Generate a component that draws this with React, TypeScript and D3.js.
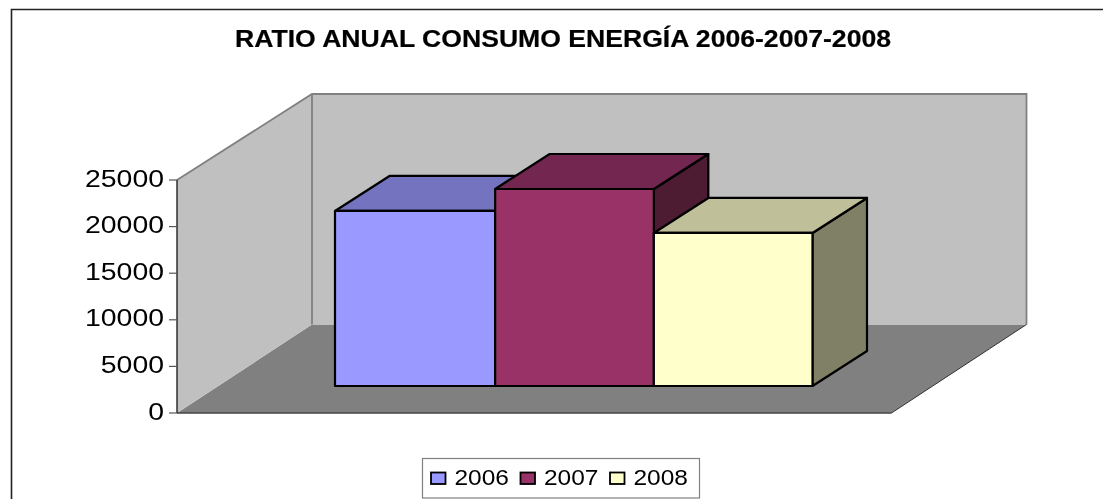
import React from "react";
import * as d3 from "d3";

const title = "RATIO ANUAL CONSUMO ENERGÍA 2006-2007-2008";
const years = ["2006", "2007", "2008"];
const ratios = [18780, 21140, 16420];
const fronts = ["#9999FF", "#993366", "#FFFFCC"];
const tops = ["#7373BF", "#732650", "#BFBF99"];
const sides = ["#4D4D80", "#4D1A33", "#808066"];
const tickValues = [0, 5000, 10000, 15000, 20000, 25000];

const y = d3.scaleLinear().domain([0, 25000]).range([413, 180]);
const x = d3.scaleBand<string>().domain(years).range([336.5, 812.5]);

const wallDx = 135, floorDy = -88.5, wallTopDy = -86;
const floorW = 714.5;
const barDx = 54.5, barDy = -35, barLift = 27;
const line = d3.line();
const poly = (p: [number, number][]) => line(p)! + "Z";

const legendX = d3.scalePoint<string>().domain(years).range([431, 610]);

export default function App() {
  const y0 = y(0), yT = y(25000);
  const xL = 177, xR = xL + floorW;
  const backTop = yT + wallTopDy, backBottom = y0 + floorDy;
  return (
    <svg width={1103} height={499} style={{ position: "absolute", left: 0, top: 0, background: "#fff" }}
      fontFamily="'Liberation Sans', Arial, sans-serif">
      <defs>
        <filter id="soft" x="0" y="0" width="1103" height="499" filterUnits="userSpaceOnUse">
          <feGaussianBlur stdDeviation={0.4} />
        </filter>
      </defs>
      <g filter="url(#soft)">
        <path d="M11.5,499V9.5H1103" fill="none" stroke="#222" strokeWidth={1.6} />
        <text x={235} y={46.5} fontSize={23} fontWeight="bold" stroke="#000" strokeWidth={0.2} textLength={656} lengthAdjust="spacingAndGlyphs" fill="#000">{title}</text>

        <path d={poly([[xL, y0], [xL + wallDx, backBottom], [xR + wallDx, backBottom], [xR, y0]])} fill="#808080" />
        <path d={poly([[xL, y0], [xL, yT], [xL + wallDx, backTop], [xL + wallDx, backBottom]])} fill="#C0C0C0" />
        <path d={poly([[xL + wallDx, backTop], [xR + wallDx, backTop], [xR + wallDx, backBottom], [xL + wallDx, backBottom]])} fill="#C0C0C0" />
        <path d={line([[xL, yT], [xL + wallDx, backTop], [xR + wallDx, backTop], [xR + wallDx, backBottom]])!} fill="none" stroke="#808080" strokeWidth={1.8} />
        <path d={line([[xL + wallDx, backTop], [xL + wallDx, backBottom]])!} fill="none" stroke="#808080" strokeWidth={1.8} />
        <path d={line([[xR, y0], [xR + wallDx, backBottom]])!} fill="none" stroke="#333" strokeWidth={1} />
        <path d={line([[xL, y0], [xR, y0]])!} fill="none" stroke="#444" strokeWidth={1.4} />
        <path d={line([[xL, yT], [xL, y0]])!} fill="none" stroke="#222" strokeWidth={1.4} />

        {tickValues.map(t => (
          <g key={t}>
            <line x1={169} x2={xL} y1={y(t)} y2={y(t)} stroke="#555" strokeWidth={1.2} />
            <text x={164} y={y(t) + 6.5} textAnchor="end" fontSize={24} fill="#000"
              textLength={String(t).length * 15.8} lengthAdjust="spacingAndGlyphs">{t}</text>
          </g>
        ))}

        {years.map((yr, i) => {
          const bw = x.bandwidth();
          const x0 = x(yr)! - (i === 0 ? 1.5 : 0);
          const x1 = x(yr)! + bw;
          const yb = y(0) - barLift;
          const yt = y(ratios[i]) - barLift;
          return (
            <g key={yr} stroke="#000" strokeWidth={2.2} strokeLinejoin="round">
              <path d={poly([[x1, yb], [x1 + barDx, yb + barDy], [x1 + barDx, yt + barDy], [x1, yt]])} fill={sides[i]} />
              <path d={poly([[x0, yt], [x0 + barDx, yt + barDy], [x1 + barDx, yt + barDy], [x1, yt]])} fill={tops[i]} />
              <rect x={x0} y={yt} width={x1 - x0} height={yb - yt} fill={fronts[i]} />
            </g>
          );
        })}

        <rect x={422.5} y={458.5} width={277} height={39.5} fill="#fff" stroke="#808080" strokeWidth={1.2} />
        {years.map((yr, i) => (
          <g key={yr}>
            <rect x={legendX(yr)!} y={472.5} width={14.5} height={11.5} fill={fronts[i]} stroke="#000" strokeWidth={1.8} />
            <text x={legendX(yr)! + 23.5} y={484.5} fontSize={22} textLength={54.5} lengthAdjust="spacingAndGlyphs" fill="#000">{yr}</text>
          </g>
        ))}
      </g>
    </svg>
  );
}
